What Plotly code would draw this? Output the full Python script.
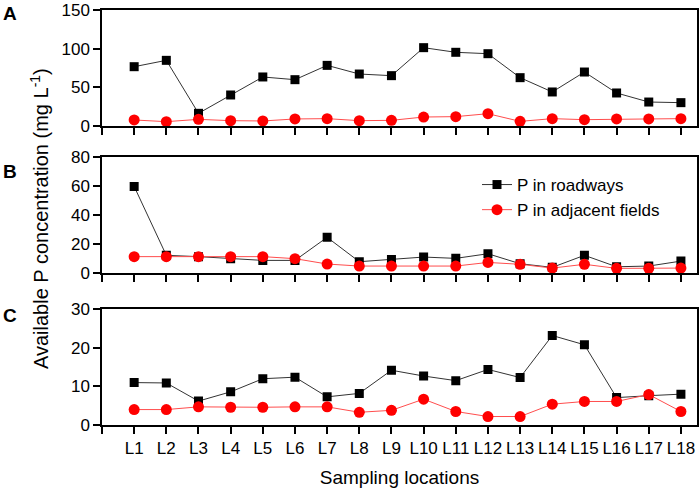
import plotly.graph_objects as go
from plotly.subplots import make_subplots

# sampling locations L1..L18 (position 0 is the empty start of the axis)
locations = ["L1", "L2", "L3", "L4", "L5", "L6", "L7", "L8", "L9",
             "L10", "L11", "L12", "L13", "L14", "L15", "L16", "L17", "L18"]
positions = list(range(1, 19))

# panel A
roads_a = [76.7, 84.9, 16.4, 40.1, 63.4, 59.9, 78.4, 67.2, 65.1,
           101.3, 95.3, 93.5, 62.5, 44.0, 69.8, 42.7, 31.0, 30.2]
fields_a = [7.8, 5.6, 8.6, 6.9, 6.5, 9.1, 9.5, 6.9, 7.3,
            11.6, 12.1, 15.9, 6.0, 9.5, 8.2, 9.1, 9.1, 9.5]

# panel B
roads_b = [59.9, 12.4, 11.5, 10.1, 8.9, 8.9, 24.8, 8.0, 9.6,
           11.2, 10.3, 13.5, 6.6, 4.1, 12.4, 4.5, 5.0, 8.4]
fields_b = [11.5, 11.5, 11.5, 11.5, 11.5, 10.1, 6.4, 5.0, 5.0,
            5.0, 5.0, 7.5, 6.2, 3.6, 6.2, 3.4, 3.4, 3.6]

# panel C
roads_c = [11.0, 10.9, 6.2, 8.6, 12.0, 12.4, 7.3, 8.2, 14.2,
           12.7, 11.5, 14.4, 12.3, 23.2, 20.8, 7.1, 7.6, 8.0]
fields_c = [4.0, 4.0, 4.7, 4.6, 4.6, 4.7, 4.7, 3.3, 3.8,
            6.7, 3.5, 2.2, 2.2, 5.4, 6.1, 6.1, 7.9, 3.5]

y_ranges = [[0, 150], [0, 80], [0, 30]]
y_dticks = [50, 20, 10]
panel_labels = ["A", "B", "C"]

FONT = "Liberation Sans, Arial, sans-serif"

W, H = 699, 491
ML, MR, MT, MB = 102, 2, 10, 66
PW, PH = W - ML - MR, H - MT - MB


def px_x(x):
    # page x (reference pixels) -> paper fraction
    return (x - ML) / PW


def px_y(y):
    # page y (reference pixels) -> paper fraction
    return (H - MB - y) / PH


fig = make_subplots(rows=3, cols=1)

panels = [(roads_a, fields_a), (roads_b, fields_b), (roads_c, fields_c)]
for i, (roads, fields) in enumerate(panels):
    row = i + 1
    first = (i == 0)
    fig.add_trace(go.Scatter(
        x=positions, y=roads, mode="lines+markers", name="P in roadways",
        line=dict(color="#333333", width=1),
        marker=dict(symbol="square", size=9, color="black"),
        showlegend=first, legendrank=1), row=row, col=1)
    fig.add_trace(go.Scatter(
        x=positions, y=fields, mode="lines+markers", name="P in adjacent fields",
        line=dict(color="#ff4d4d", width=1),
        marker=dict(symbol="circle", size=11, color="#ff0000"),
        showlegend=first, legendrank=2), row=row, col=1)

# domains (bottom, top in page pixels)
y_domains = [[px_y(126), px_y(10)], [px_y(273.3), px_y(157.3)], [px_y(425), px_y(309.3)]]

for i in range(3):
    row = i + 1
    fig.update_xaxes(
        range=[0, 18.5], tickmode="array",
        tickvals=positions, ticktext=locations,
        showticklabels=(row == 3), ticks="outside", ticklen=7, tickwidth=1.5,
        tickcolor="black", showline=True, linecolor="black", linewidth=1.5,
        minor=dict(ticks="outside", tick0=0, dtick=1, ticklen=7, tickwidth=1.5,
                   tickcolor="black", showgrid=False),
        mirror=True, showgrid=False, zeroline=False, automargin=False,
        tickfont=dict(size=17, color="black", family=FONT),
        row=row, col=1)
    fig.update_yaxes(
        range=y_ranges[i], dtick=y_dticks[i], tick0=0, domain=y_domains[i],
        ticks="outside", ticklen=7, tickwidth=1.5, tickcolor="black",
        showline=True, linecolor="black", linewidth=1.5, mirror=True,
        showgrid=False, zeroline=False, automargin=False,
        tickfont=dict(size=17, color="black", family=FONT),
        row=row, col=1)

fig.update_xaxes(title=dict(text="Sampling locations", font=dict(size=19, family=FONT, color="black"),
                            standoff=14), row=3, col=1)

annotations = []
letter_y = [14, 172, 315]
for lab, py in zip(panel_labels, letter_y):
    annotations.append(dict(
        text="<b>" + lab + "</b>", xref="paper", yref="paper",
        x=px_x(10), y=px_y(py), xanchor="center", yanchor="middle",
        showarrow=False, font=dict(size=19, family=FONT, color="black")))

annotations.append(dict(
    text="Available P concentration (mg L<sup>-1</sup>)", xref="paper", yref="paper",
    x=px_x(39), y=px_y(219), xanchor="center", yanchor="middle",
    textangle=-90, showarrow=False, font=dict(size=20, family=FONT, color="black")))

fig.update_layout(
    width=W, height=H,
    margin=dict(l=ML, r=MR, t=MT, b=MB, autoexpand=False),
    paper_bgcolor="white", plot_bgcolor="white",
    font=dict(family=FONT, color="black"),
    annotations=annotations,
    legend=dict(x=px_x(477), y=px_y(167), xanchor="left", yanchor="top",
                bgcolor="rgba(0,0,0,0)", font=dict(size=17, family=FONT, color="black"),
                tracegroupgap=0, itemwidth=30),
)

# drop the browser's default body margin so the figure sits at the page corner
fig.write_html("out.html", config={"displayModeBar": False},
               post_script="document.body.style.margin='0px';")
